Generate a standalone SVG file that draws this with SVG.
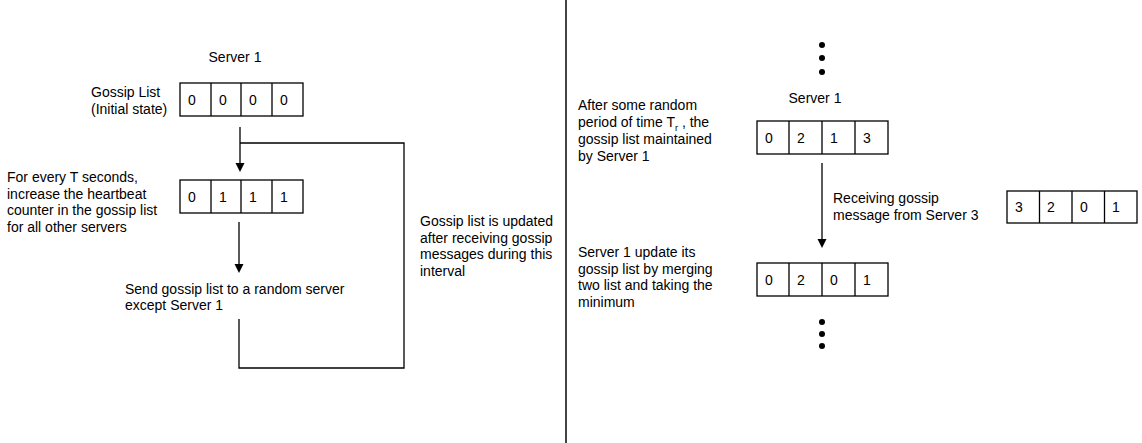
<svg xmlns="http://www.w3.org/2000/svg" width="1142" height="443" viewBox="0 0 1142 443">
<style>
text{font-family:"Liberation Sans",Arial,sans-serif;font-size:14px;fill:#000}
.box{fill:#fff;stroke:#000;stroke-width:1.3}
.ln{fill:none;stroke:#000;stroke-width:1.3}
.c{text-anchor:middle}
</style>
<defs>
<marker id="ah" markerWidth="8" markerHeight="10" refX="4" refY="9" orient="auto-start-reverse" markerUnits="userSpaceOnUse" viewBox="0 0 8 10">
<path d="M0,0 L8,0 L4,10 Z" fill="#000" transform="rotate(0)"/>
</marker>
</defs>
<rect width="1142" height="443" fill="#fff"/>
<line x1="566" y1="0" x2="566" y2="443" stroke="#444" stroke-width="2"/>

<g id="connectors">
<line class="ln" x1="240" y1="127" x2="240" y2="163"/>
<path d="M235.5,163 L244.5,163 L240,172 Z" fill="#000"/>
<line class="ln" x1="239" y1="222" x2="239" y2="264"/>
<path d="M234.5,264 L243.5,264 L239,273 Z" fill="#000"/>
<path class="ln" d="M240,143 H404 V368 H239 V319"/>
<line class="ln" x1="822" y1="163" x2="822" y2="239"/>
<path d="M817.5,239 L826.5,239 L822,248 Z" fill="#000"/>
</g>

<g id="server1-left-title"><text class="c" x="235" y="62">Server 1</text></g>

<g id="initial-label">
<text x="91" y="97">Gossip List</text>
<text x="91" y="114">(Initial state)</text>
</g>

<g id="list-initial">
<rect class="box" x="180" y="83" width="123" height="33"/>
<path class="ln" d="M211,83V116M241,83V116M272,83V116"/>
<text x="188" y="105">0</text><text x="219" y="105">0</text><text x="249" y="105">0</text><text x="280" y="105">0</text>
</g>

<g id="heartbeat-label">
<text x="7" y="182">For every T seconds,</text>
<text x="7" y="199">increase the heartbeat</text>
<text x="7" y="215">counter in the gossip list</text>
<text x="7" y="232">for all other servers</text>
</g>

<g id="list-heartbeat">
<rect class="box" x="180" y="180" width="123" height="33"/>
<path class="ln" d="M211,180V213M241,180V213M272,180V213"/>
<text x="188" y="202">0</text><text x="219" y="202">1</text><text x="249" y="202">1</text><text x="280" y="202">1</text>
</g>

<g id="send-label">
<text x="125" y="294">Send gossip list to a random server</text>
<text x="125" y="310">except Server 1</text>
</g>

<g id="updated-label">
<text x="420" y="226">Gossip list is updated</text>
<text x="420" y="243">after receiving gossip</text>
<text x="420" y="259">messages during this</text>
<text x="420" y="276">interval</text>
</g>

<g id="dots-top">
<circle cx="822" cy="45" r="3"/><circle cx="822" cy="58" r="3"/><circle cx="822" cy="72" r="3"/>
</g>

<g id="server1-right-title"><text class="c" x="815" y="103">Server 1</text></g>

<g id="after-label">
<text x="578" y="110">After some random</text>
<text x="578" y="127">period of time T<tspan font-size="9" dy="4">r</tspan><tspan dy="-4"> , the</tspan></text>
<text x="578" y="144">gossip list maintained</text>
<text x="578" y="161">by Server 1</text>
</g>

<g id="list-before">
<rect class="box" x="757" y="121" width="131" height="33"/>
<path class="ln" d="M789,121V154M822,121V154M855,121V154"/>
<text x="765" y="143">0</text><text x="797" y="143">2</text><text x="830" y="143">1</text><text x="863" y="143">3</text>
</g>

<g id="receiving-label">
<text x="833" y="203">Receiving gossip</text>
<text x="833" y="220">message from Server 3</text>
</g>

<g id="list-server3">
<rect class="box" x="1007" y="191" width="130" height="32"/>
<path class="ln" d="M1039.5,191V223M1072,191V223M1104.5,191V223"/>
<text x="1015" y="212">3</text><text x="1047" y="212">2</text><text x="1080" y="212">0</text><text x="1112" y="212">1</text>
</g>

<g id="merge-label">
<text x="578" y="257">Server 1 update its</text>
<text x="578" y="274">gossip list by merging</text>
<text x="578" y="290">two list and taking the</text>
<text x="578" y="307">minimum</text>
</g>

<g id="list-merged">
<rect class="box" x="757" y="263" width="131" height="33"/>
<path class="ln" d="M789,263V296M822,263V296M855,263V296"/>
<text x="765" y="285">0</text><text x="797" y="285">2</text><text x="830" y="285">0</text><text x="863" y="285">1</text>
</g>

<g id="dots-bottom">
<circle cx="822" cy="322" r="3"/><circle cx="822" cy="334" r="3"/><circle cx="822" cy="346" r="3"/>
</g>
</svg>
